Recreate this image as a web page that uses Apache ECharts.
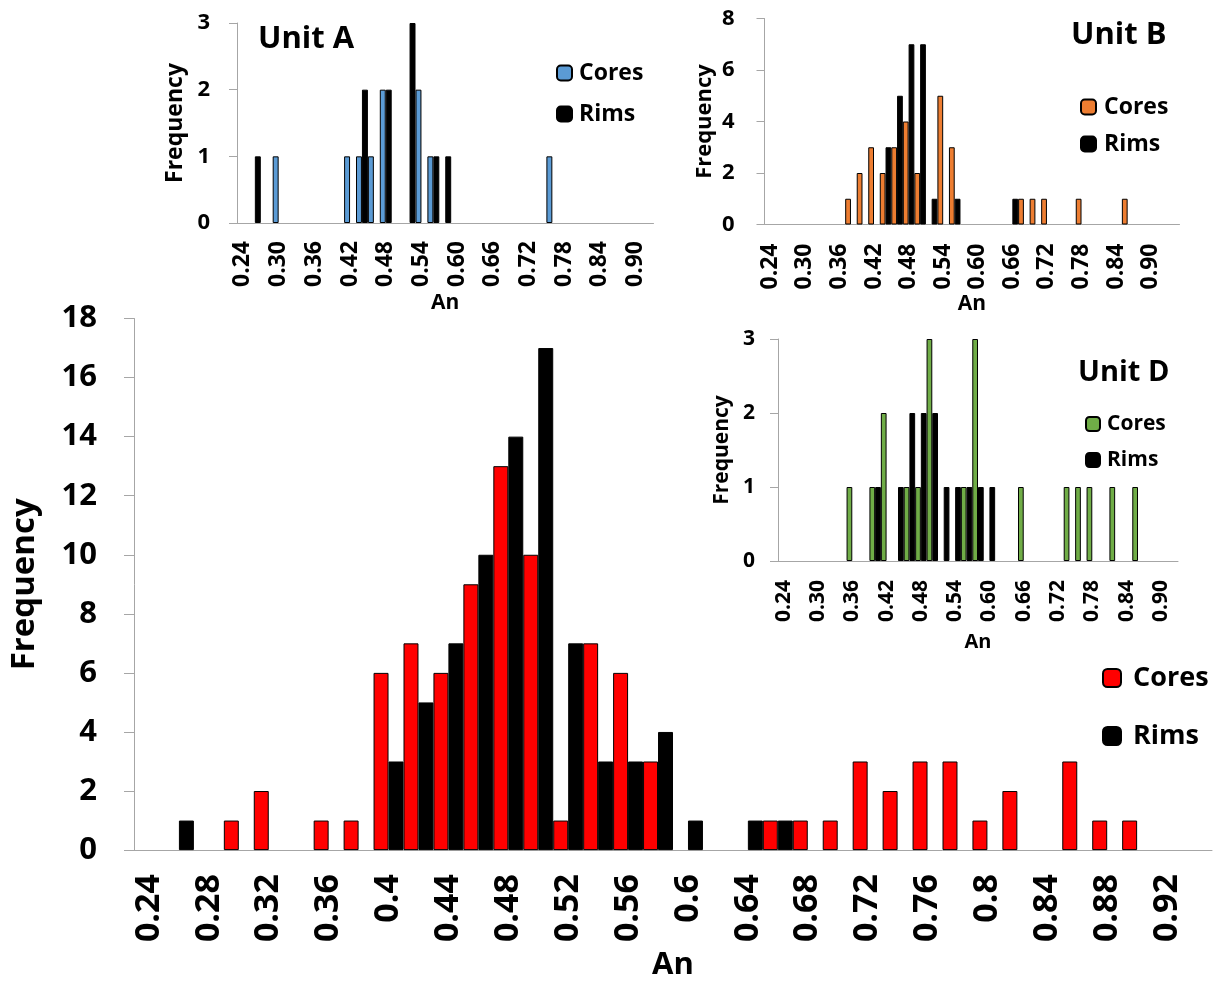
<!DOCTYPE html>
<html><head><meta charset="utf-8">
<script src="https://cdn.jsdelivr.net/npm/echarts@6.0.0/dist/echarts.min.js"></script>
<style>html,body{margin:0;padding:0;background:#fff}#c{width:1227px;height:986px}</style>
</head><body><div id="c"></div>
<script>
// ---------- DATA ----------
const mainCategories = ['0.24','0.26','0.28','0.30','0.32','0.34','0.36','0.38','0.40','0.42','0.44','0.46','0.48','0.50','0.52','0.54','0.56','0.58','0.60','0.62','0.64','0.66','0.68','0.70','0.72','0.74','0.76','0.78','0.80','0.82','0.84','0.86','0.88','0.90','0.92','0.94'];
const mainCores = [0,0,0,1,2,0,1,1,6,7,6,9,13,10,1,7,6,3,0,0,0,1,1,1,3,2,3,3,1,2,0,3,1,1,0,0];
const mainRims  = [0,1,0,0,0,0,0,0,3,5,7,10,14,17,7,3,3,4,1,0,1,1,0,0,0,0,0,0,0,0,0,0,0,0,0,0];

const unitACategories = ['0.24','0.26','0.28','0.30','0.32','0.34','0.36','0.38','0.40','0.42','0.44','0.46','0.48','0.50','0.52','0.54','0.56','0.58','0.60','0.62','0.64','0.66','0.68','0.70','0.72','0.74','0.76','0.78','0.80','0.82','0.84','0.86','0.88','0.90','0.92'];
const unitACores = [0,0,0,1,0,0,0,0,0,1,1,1,2,0,0,2,1,0,0,0,0,0,0,0,0,0,1,0,0,0,0,0,0,0,0];
const unitARims  = [0,1,0,0,0,0,0,0,0,0,2,0,2,0,3,0,1,1,0,0,0,0,0,0,0,0,0,0,0,0,0,0,0,0,0];

const unitBCategories = ['0.24','0.26','0.28','0.30','0.32','0.34','0.36','0.38','0.40','0.42','0.44','0.46','0.48','0.50','0.52','0.54','0.56','0.58','0.60','0.62','0.64','0.66','0.68','0.70','0.72','0.74','0.76','0.78','0.80','0.82','0.84','0.86','0.88','0.90','0.92','0.94'];
const unitBCores = [0,0,0,0,0,0,0,1,2,3,2,3,4,2,0,5,3,0,0,0,0,0,1,1,1,0,0,1,0,0,0,1,0,0,0,0];
const unitBRims  = [0,0,0,0,0,0,0,0,0,0,3,5,7,7,1,0,1,0,0,0,0,1,0,0,0,0,0,0,0,0,0,0,0,0,0,0];

const unitDCategories = ['0.24','0.26','0.28','0.30','0.32','0.34','0.36','0.38','0.40','0.42','0.44','0.46','0.48','0.50','0.52','0.54','0.56','0.58','0.60','0.62','0.64','0.66','0.68','0.70','0.72','0.74','0.76','0.78','0.80','0.82','0.84','0.86','0.88','0.90','0.92'];
const unitDCores = [0,0,0,0,0,0,1,0,1,2,0,1,1,3,0,0,1,3,0,0,0,1,0,0,0,1,1,1,0,1,0,1,0,0,0];
const unitDRims  = [0,0,0,0,0,0,0,0,1,0,1,2,2,2,1,1,1,1,1,0,0,0,0,0,0,0,0,0,0,0,0,0,0,0,0];

// ---------- STYLE ----------
const F = '"Open Sans", sans-serif';
const GRAY = '#A6A6A6';
const nz = arr => arr.map(v => v === 0 ? '-' : v);
const txt = (size) => ({ fontFamily: F, fontWeight: 'bold', fontSize: size, color: '#000' });

function xAxis(gi, cats, o) {
  return {
    type: 'category', gridIndex: gi, data: cats,
    axisLine: { lineStyle: { color: GRAY, width: 1 } },
    axisTick: { interval: 0, length: o.tick, lineStyle: { color: GRAY } },
    axisLabel: Object.assign({ interval: o.interval, rotate: 90, margin: o.margin,
      formatter: o.fmt || (v => v) }, txt(o.label)),
    name: 'An', nameLocation: 'middle', nameGap: o.nameGap,
    nameTextStyle: txt(o.name),
    splitLine: { show: false }
  };
}
function yAxis(gi, max, step, o) {
  return {
    type: 'value', gridIndex: gi, min: 0, max: max, interval: step,
    axisLine: { show: true, lineStyle: { color: GRAY } },
    axisTick: { show: true, length: o.tick, lineStyle: { color: GRAY } },
    axisLabel: Object.assign({ margin: o.margin }, txt(o.label)),
    splitLine: { show: false },
    name: 'Frequency', nameLocation: 'middle', nameGap: o.nameGap,
    nameTextStyle: txt(o.name)
  };
}
function bar(name, gi, data, color) {
  return {
    type: 'bar', name: name, xAxisIndex: gi, yAxisIndex: gi, data: nz(data),
    barGap: '0%', barCategoryGap: '0%',
    itemStyle: { color: color, borderColor: '#000', borderWidth: 1 },
    emphasis: { disabled: true }, animation: false
  };
}
function legend(name, left, centerY, icon, size, gap) {
  return {
    data: [name], orient: 'vertical', left: left, top: centerY - size / 2,
    padding: 0, itemWidth: icon, itemHeight: icon, selectedMode: false,
    formatter: n => n.split(' ')[1],
    textStyle: Object.assign({ lineHeight: size, padding: [0, 0, 0, gap] }, txt(size))
  };
}
function title(text, left, centerY, size) {
  return { text: text, left: left, top: centerY - size / 2, padding: 0,
    textStyle: Object.assign({ lineHeight: size }, txt(size)) };
}

const option = {
  backgroundColor: '#fff',
  animation: false,
  grid: [
    { left: 133, top: 318.5, width: 1079, height: 543 },
    { left: 237, top: 23, width: 416.5, height: 200 },
    { left: 764.5, top: 18.5, width: 415, height: 206 },
    { left: 778, top: 339, width: 400, height: 222 }
  ],
  xAxis: [
    xAxis(0, mainCategories, { tick: 11, interval: 1, margin: 24, label: 34, name: 31, nameGap: 95,
      fmt: v => String(parseFloat(v)) }),
    xAxis(1, unitACategories, { tick: 8, interval: 2, margin: 18, label: 23, name: 21, nameGap: 70 }),
    xAxis(2, unitBCategories, { tick: 8, interval: 2, margin: 19, label: 23, name: 21, nameGap: 68 }),
    xAxis(3, unitDCategories, { tick: 8, interval: 2, margin: 19, label: 21, name: 20, nameGap: 71 })
  ],
  yAxis: [
    yAxis(0, 18, 2, { tick: 10, margin: 37, label: 31, name: 33, nameGap: 93 }),
    yAxis(1, 3, 1, { tick: 8, margin: 27, label: 22, name: 23, nameGap: 50 }),
    yAxis(2, 8, 2, { tick: 8, margin: 30, label: 22, name: 22, nameGap: 49 }),
    yAxis(3, 3, 1, { tick: 8, margin: 23, label: 21, name: 21, nameGap: 45 })
  ],
  title: [
    title('Unit A', 258, 39, 31),
    title('Unit B', 1071, 35, 31),
    title('Unit D', 1078, 373, 29)
  ],
  legend: [
    legend('Main Cores', 1102, 678, 18, 27, 7),
    legend('Main Rims', 1102, 736, 18, 27, 7),
    legend('A Cores', 556, 73, 15, 23, 2),
    legend('A Rims', 556, 114, 15, 23, 2),
    legend('B Cores', 1080, 107, 15, 23, 3),
    legend('B Rims', 1080, 144, 15, 23, 3),
    legend('D Cores', 1085, 424, 14, 21, 2),
    legend('D Rims', 1085, 460, 14, 21, 2)
  ],
  series: [
    bar('Main Cores', 0, mainCores, '#FF0000'),
    bar('Main Rims', 0, mainRims, '#000000'),
    bar('A Cores', 1, unitACores, '#5B9BD5'),
    bar('A Rims', 1, unitARims, '#000000'),
    bar('B Cores', 2, unitBCores, '#ED7D31'),
    bar('B Rims', 2, unitBRims, '#000000'),
    bar('D Cores', 3, unitDCores, '#70AD47'),
    bar('D Rims', 3, unitDRims, '#000000')
  ]
};
const chart = echarts.init(document.getElementById('c'), null, { renderer: 'canvas' });
chart.setOption(option);
</script>
</body></html>
